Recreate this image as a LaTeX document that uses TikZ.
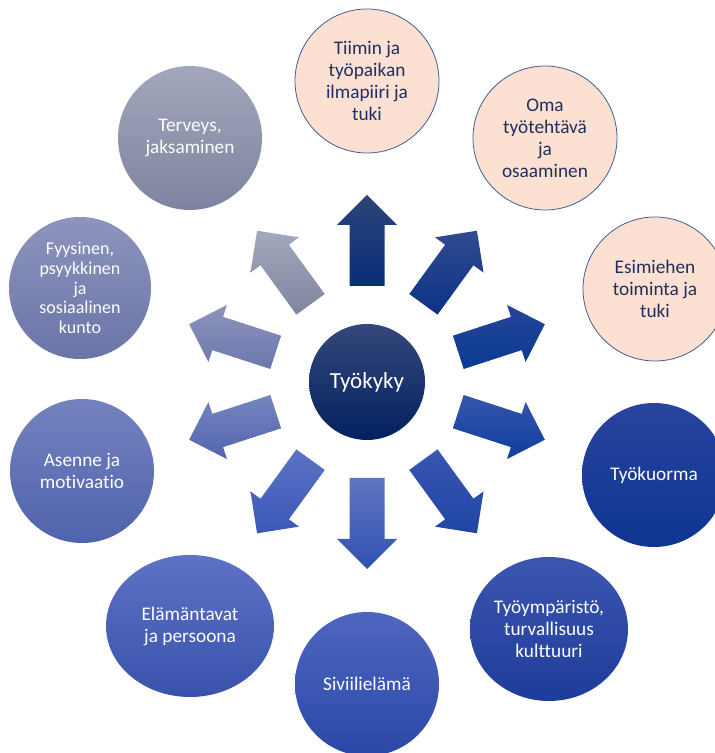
\documentclass[tikz,border=0pt]{standalone}
\usepackage{fontspec}
\setmainfont{Carlito}[RawFeature={-liga,-clig,-calt,-dlig}]
\usetikzlibrary{calc,shapes.geometric}

% circle colours (top / bottom of each gradient)
\definecolor{peach}{HTML}{FCE0D2}
\definecolor{peachline}{HTML}{41608F}
\definecolor{peachtext}{HTML}{1F3060}
\definecolor{midT}{HTML}{35487A}\definecolor{midB}{HTML}{02215F}
\definecolor{terT}{HTML}{A3A7BC}\definecolor{terB}{HTML}{7E84A0}
\definecolor{fyyT}{HTML}{8D94BD}\definecolor{fyyB}{HTML}{6B74A8}
\definecolor{aseT}{HTML}{7482BE}\definecolor{aseB}{HTML}{4F63AD}
\definecolor{elaT}{HTML}{5D72C4}\definecolor{elaB}{HTML}{3A52AD}
\definecolor{sivT}{HTML}{4F66BF}\definecolor{sivB}{HTML}{2A48A8}
\definecolor{tymT}{HTML}{3C56B0}\definecolor{tymB}{HTML}{1E3C9A}
\definecolor{tkuT}{HTML}{28449E}\definecolor{tkuB}{HTML}{0E3591}
% arrow colours
\definecolor{a1t}{HTML}{2F4478}\definecolor{a1b}{HTML}{072D7A}
\definecolor{a2t}{HTML}{324A8F}\definecolor{a2b}{HTML}{0A3287}
\definecolor{a3t}{HTML}{274597}\definecolor{a3b}{HTML}{083A95}
\definecolor{a4t}{HTML}{3655AA}\definecolor{a4b}{HTML}{0E3F9F}
\definecolor{a5t}{HTML}{3956B0}\definecolor{a5b}{HTML}{1E45A5}
\definecolor{a6t}{HTML}{6276C0}\definecolor{a6b}{HTML}{2F50B2}
\definecolor{a7t}{HTML}{5D72C4}\definecolor{a7b}{HTML}{3A58B8}
\definecolor{a8t}{HTML}{7784BD}\definecolor{a8b}{HTML}{5165B0}
\definecolor{a9t}{HTML}{8D93BB}\definecolor{a9b}{HTML}{6C78AE}
\definecolor{a10t}{HTML}{A4A8BC}\definecolor{a10b}{HTML}{80859F}

\tikzset{
  ball/.style={circle, minimum size=144, inner sep=0pt, align=center,
    text=white, font=\fontsize{19.3}{22}\selectfont},
  oval/.style={ellipse, inner sep=0pt, align=center,
    text=white, font=\fontsize{19.3}{22}\selectfont},
  peachball/.style={ball, fill=peach, draw=peachline, line width=0.8pt,
    text=peachtext},
}

\begin{document}
\begin{tikzpicture}[x=1pt,y=1pt]
\useasboundingbox (0,0) rectangle (715,753);
\clip (0,0) rectangle (715,753);

% centre
\node[circle, minimum size=116, inner sep=0pt, top color=midT, bottom color=midB,
      text=white, font=\fontsize{23}{26}\selectfont] (c) at (367,371) {Työkyky};

% block arrows radiating from the centre
\foreach \a/\ct/\cb in {90/a1t/a1b, 54/a2t/a2b, 18/a3t/a3b, -18/a4t/a4b,
    -54/a5t/a5b, -90/a6t/a6b, -126/a7t/a7b, -162/a8t/a8b, 162/a9t/a9b,
    126/a10t/a10b}{
  \shade[top color=\ct, bottom color=\cb]
    ($(c)+(\a:96)+({\a+90}:17.5)$) -- ($(c)+(\a:157)+({\a+90}:17.5)$) --
    ($(c)+(\a:157)+({\a+90}:30)$) -- ($(c)+(\a:187)$) --
    ($(c)+(\a:157)+({\a-90}:30)$) -- ($(c)+(\a:157)+({\a-90}:17.5)$) --
    ($(c)+(\a:96)+({\a-90}:17.5)$) -- cycle;
}

% surrounding factors
\node[peachball] (tiim) at (367,672) {Tiimin ja\\työpaikan\\ilmapiiri ja\\tuki};
\node[peachball] (oma) at (545,615) {Oma\\työtehtävä\\ja\\osaaminen};
\node[peachball] (esim) at (655,464) {Esimiehen\\toiminta ja\\tuki};
\node[ball, top color=tkuT, bottom color=tkuB] (tku) at (654,278) {Työkuorma};
\node[oval, minimum width=158, minimum height=144, top color=tymT, bottom color=tymB]
  (tym) at (549,124) {Työympäristö,\\turvallisuus\\kulttuuri};
\node[ball, top color=sivT, bottom color=sivB] (siv) at (367,69) {Siviilielämä};
\node[oval, minimum width=168, minimum height=142, top color=elaT, bottom color=elaB]
  (ela) at (190,127) {Elämäntavat\\ja persoona};
\node[ball, top color=aseT, bottom color=aseB] (ase) at (82,282) {Asenne ja\\motivaatio};
\node[ball, minimum size=142, top color=fyyT, bottom color=fyyB,
      font=\fontsize{18}{19.7}\selectfont]
  (fyy) at (80,465) {Fyysinen,\\psyykkinen\\ja\\sosiaalinen\\kunto};
\node[ball, top color=terT, bottom color=terB] (ter) at (190,615) {Terveys,\\jaksaminen};
\end{tikzpicture}
\end{document}
